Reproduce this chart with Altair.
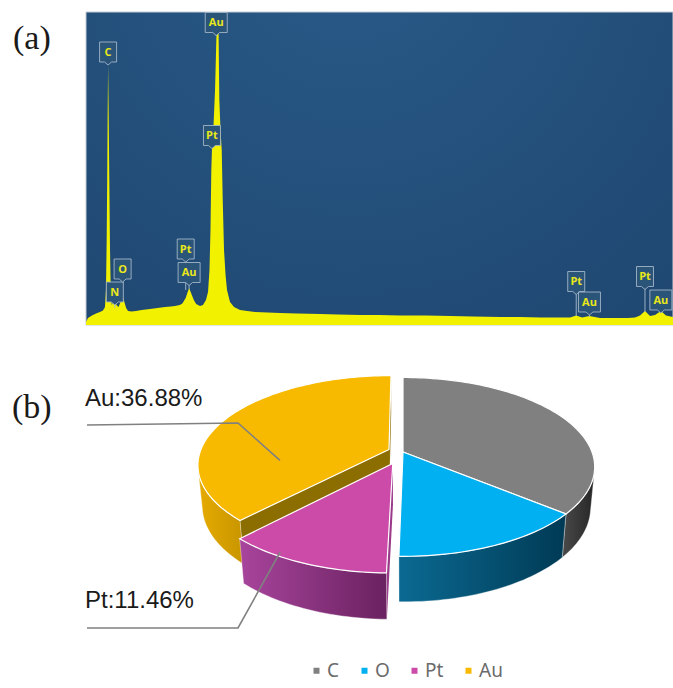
import math
import numpy as np
import pandas as pd
import altair as alt

# ---------------- (a) EDS spectrum ----------------
energy_kev = [
    -0.100, -0.066, 0.002, 0.071, 0.139, 0.190, 0.224, 0.241, 0.253, 0.262,
    0.269, 0.277, 0.288, 0.298, 0.310, 0.323, 0.340, 0.365, 0.392, 0.420,
    0.455, 0.490, 0.525, 0.555, 0.585, 0.617, 0.680, 0.754, 0.850, 0.993,
    1.120, 1.249, 1.350, 1.419, 1.500, 1.545, 1.602, 1.630, 1.660, 1.700,
    1.740, 1.780, 1.846, 1.897, 1.948, 1.983, 2.008, 2.025, 2.039, 2.051,
    2.077, 2.103, 2.125, 2.142, 2.159, 2.176, 2.196, 2.217, 2.234, 2.256,
    2.282, 2.307, 2.358, 2.427, 2.529, 2.650, 2.785, 3.000, 3.212, 3.500,
    3.895, 4.200, 4.578, 4.900, 5.261, 5.700, 6.114, 6.500, 6.968, 7.300,
    7.651, 7.950, 8.163, 8.268, 8.367, 8.494, 8.674, 8.850, 9.016, 9.150,
    9.272, 9.357, 9.442, 9.528, 9.614, 9.713, 9.800, 9.920,
]
counts = [
    30, 70, 95, 115, 130, 145, 180, 360, 850, 1450,
    2050, 2600, 2050, 1450, 750, 320, 200, 230, 270, 200,
    180, 230, 290, 230, 170, 140, 135, 140, 150, 160,
    170, 180, 185, 190, 200, 215, 270, 320, 370, 310,
    250, 210, 190, 200, 250, 330, 550, 950, 1550, 1770,
    2000, 2350, 2850, 3400, 3400, 2250, 1950, 1750, 1250, 750,
    500, 350, 230, 180, 150, 140, 130, 125, 120, 115,
    110, 105, 100, 100, 95, 95, 90, 85, 80, 80,
    75, 75, 75, 95, 75, 90, 70, 70, 70, 70,
    75, 95, 140, 90, 100, 140, 95, 80,
]

# peak identification tags: element, line energy, tag height, end of its stem
peak_element = ["C", "N", "O", "Pt", "Au", "Pt", "Au", "Pt", "Au", "Pt", "Au"]
peak_kev = [0.277, 0.392, 0.525, 1.602, 1.660, 2.050, 2.123, 8.268, 8.494, 9.442, 9.713]
peak_tag = [2730, 330, 560, 760, 525, 1895, 3025, 435, 230, 485, 250]
peak_stem = [2610, 170, 270, 350, 360, 1770, 2890, 90, 80, 130, 120]

E_MIN, E_MAX = -0.10, 9.92
C_MAX = 3130

# ---------------- (b) composition (wt%) ----------------
elements = ["C", "O", "Pt", "Au"]
percent = [35.00, 13.90, 11.46, 36.88]

# ---------------- styling ----------------
top_colors = ["#808080", "#00b0f0", "#cc4aa8", "#f7ba00"]
wall_colors = {
    "C": ("#4a4a4a", "#262626"),
    "O": ("#0b6a92", "#003a55"),
    "Pt": ("#a8449c", "#6a2260"),
    "Au": ("#e6ab00", "#c89500"),
}
face_colors = {"C": "#5a5a5a", "O": "#0a5070", "Pt": "#9a3a88", "Au": "#8c6d00"}
EXPLODE = {"C": 0.0, "O": 0.0, "Pt": 0.14, "Au": 0.08}

spec_df = pd.DataFrame({"kev": energy_kev, "counts": counts})
tag_df = pd.DataFrame({"element": peak_element, "kev": peak_kev,
                       "tag": peak_tag, "stem": peak_stem})
frame_df = pd.DataFrame({"x0": [E_MIN], "x1": [E_MAX], "y0": [0], "y1": [C_MAX]})
one_row = pd.DataFrame({"k": [0]})

x_scale = alt.Scale(domain=[E_MIN, E_MAX], range=[86, 673], nice=False, zero=False)
y_scale = alt.Scale(domain=[0, C_MAX], range=[325, 12], nice=False, zero=False, clamp=True)


def X(field):
    return alt.X(field, type="quantitative", scale=x_scale, axis=None)


def Y(field):
    return alt.Y(field, type="quantitative", scale=y_scale, axis=None)


panel_fill = {
    "gradient": "radial",
    "x1": 0.45, "y1": 0.12, "r1": 0.0,
    "x2": 0.45, "y2": 0.12, "r2": 0.95,
    "stops": [
        {"offset": 0.0, "color": "#295a88"},
        {"offset": 1.0, "color": "#1d446d"},
    ],
}

background = alt.Chart(frame_df).mark_rect(
    fill=panel_fill, stroke="#c3cbd4", strokeWidth=1
).encode(x=X("x0"), x2="x1:Q", y=Y("y0"), y2="y1:Q")

spectrum = alt.Chart(spec_df).mark_area(
    color="#f2f200", opacity=1, interpolate="linear"
).encode(x=X("kev"), y=Y("counts"))

stems = alt.Chart(tag_df).mark_rule(
    color="#a9bbcc", strokeWidth=1, opacity=0.9
).encode(x=X("kev"), y=Y("tag"), y2="stem:Q")

# tag outline: box with a small pointer underneath (unit square -1..1)
TAG_NARROW = "M-0.607,-0.714 H0.607 V0.714 H0.25 L0,0.93 L-0.25,0.714 H-0.607 Z"
TAG_WIDE = "M-0.786,-0.714 H0.786 V0.714 H0.25 L0,0.93 L-0.25,0.714 H-0.786 Z"

tag_style = dict(size=784, filled=True, fill="#2b5479", stroke="#a9bbcc",
                 strokeWidth=1, opacity=1, strokeOpacity=0.85)

tags_narrow = alt.Chart(tag_df).transform_filter(
    "datum.element != 'Au'"
).mark_point(shape=TAG_NARROW, **tag_style).encode(x=X("kev"), y=Y("tag"))

tags_wide = alt.Chart(tag_df).transform_filter(
    "datum.element == 'Au'"
).mark_point(shape=TAG_WIDE, **tag_style).encode(x=X("kev"), y=Y("tag"))

tag_text = alt.Chart(tag_df).mark_text(
    color="#e8e81a", font="Open Sans", fontSize=11, fontWeight="bold",
    align="center", baseline="middle", dy=0.5
).encode(x=X("kev"), y=Y("tag"), text="element:N")

# ---------------- 3-D pie geometry ----------------
SIN_E = 0.46
COS_E = math.sqrt(1 - SIN_E ** 2)
DEPTH = 5.33
K = 189.0
CX, CY = 403.0, 452.0
H = 0.245
PHI_SIL = math.degrees(math.acos(-1.0 / (DEPTH * COS_E)))
CAM = (0.0, -DEPTH * COS_E)


def project(x, y, z=0.0):
    v = y * SIN_E + z * COS_E
    w = y * COS_E - z * SIN_E
    s = DEPTH / (DEPTH + w)
    return [round(CX + K * x * s, 2), round(CY - K * v * s, 2)]


def rim_pt(o, phi_deg, r=1.0, z=0.0):
    p = math.radians(phi_deg)
    return project(o[0] + r * math.sin(p), o[1] + r * math.cos(p), z)


def arc(o, a0, a1, z=0.0):
    n = max(2, int(abs(a1 - a0) / 1.5) + 2)
    return [rim_pt(o, a, 1.0, z) for a in np.linspace(a0, a1, n)]


def polygon(pts, **props):
    ring = pts + [pts[0]]
    return {"type": "Feature", "properties": props,
            "geometry": {"type": "Polygon", "coordinates": [ring]}}


total = sum(percent)
slices = []
acc = 0.0
for name, p in zip(elements, percent):
    a0 = acc / total * 360.0
    acc += p
    a1 = acc / total * 360.0
    mid = math.radians((a0 + a1) / 2)
    e = EXPLODE[name]
    slices.append((name, a0, a1, (e * math.sin(mid), e * math.cos(mid))))

face_feats, top_feats = [], []
wall_feats = {}
for name, a0, a1, o in slices:
    # cut faces that turn towards the viewer
    for phi, sign in ((a0, -1.0), (a1, 1.0)):
        pr = math.radians(phi)
        n = (sign * math.cos(pr), -sign * math.sin(pr))
        px, py = o[0] + 0.5 * math.sin(pr), o[1] + 0.5 * math.cos(pr)
        if n[0] * (CAM[0] - px) + n[1] * (CAM[1] - py) > 0:
            pts = [project(o[0], o[1], 0.0), rim_pt(o, phi), rim_pt(o, phi, z=-H),
                   project(o[0], o[1], -H)]
            face_feats.append(polygon(pts, element=name, shade=face_colors[name]))
    # outer wall, front part only
    a, b = max(a0, PHI_SIL), min(a1, 360.0 - PHI_SIL)
    if b > a:
        pts = arc(o, a, b) + arc(o, b, a, z=-H)
        wall_feats[name] = polygon(pts, element=name)
    # top face
    top_feats.append(polygon([project(o[0], o[1])] + arc(o, a0, a1), element=name))

offsets = {s[0]: s[3] for s in slices}
au_anchor = rim_pt(offsets["Au"], 257.6, r=0.58)
pt_anchor = rim_pt(offsets["Pt"], 210.5, r=0.97)
leader_feats = [
    {"type": "Feature", "properties": {"element": "Au"},
     "geometry": {"type": "LineString", "coordinates": [[87, 425], [238, 423], au_anchor]}},
    {"type": "Feature", "properties": {"element": "Pt"},
     "geometry": {"type": "LineString", "coordinates": [[87, 628], [238, 628], pt_anchor]}},
]

flat = dict(type="identity", scale=1, translate=[0, 0])

faces = alt.Chart(alt.Data(values=face_feats)).mark_geoshape(
    stroke="transparent", strokeWidth=0
).encode(fill=alt.Fill("properties.shade:N", scale=None, legend=None)).project(**flat)

walls = []
for name in ["C", "Au", "O", "Pt"]:
    if name not in wall_feats:
        continue
    c0, c1 = wall_colors[name]
    grad = {"gradient": "linear", "x1": 0, "y1": 0, "x2": 1, "y2": 0,
            "stops": [{"offset": 0, "color": c0}, {"offset": 1, "color": c1}]}
    walls.append(
        alt.Chart(alt.Data(values=[wall_feats[name]])).mark_geoshape(
            fill=grad, stroke="#ffffff", strokeWidth=0.6, strokeOpacity=0.6
        ).project(**flat)
    )

tops = alt.Chart(alt.Data(values=top_feats)).mark_geoshape(
    stroke="#ffffff", strokeWidth=1.2, opacity=1
).encode(
    color=alt.Color(
        "properties.element:N",
        scale=alt.Scale(domain=elements, range=top_colors),
        legend=alt.Legend(
            title=None, orient="none", legendX=307, legendY=661,
            direction="horizontal", columns=4, symbolType="square",
            symbolSize=36, symbolStrokeWidth=0, labelFont="Noto Sans",
            labelFontSize=19, labelColor="#6b6b6b", labelOffset=1,
            columnPadding=15, padding=0,
        ),
    )
).project(**flat)

leaders = alt.Chart(alt.Data(values=leader_feats)).mark_geoshape(
    filled=False, stroke="#808080", strokeWidth=1.6
).project(**flat)


def label(text, x, y, size, font, color="#1a1a1a"):
    return alt.Chart(one_row).mark_text(
        align="left", baseline="alphabetic", font=font, fontSize=size, color=color
    ).encode(x=alt.value(x), y=alt.value(y), text=alt.value(text))


pct = dict(zip(elements, percent))
texts = [
    label("(a)", 13, 49, 34, "Liberation Serif"),
    label("(b)", 12, 418, 34, "Liberation Serif"),
    label(f"Au:{pct['Au']:.2f}%", 85, 406, 24, "Liberation Sans"),
    label(f"Pt:{pct['Pt']:.2f}%", 85, 608, 24, "Liberation Sans"),
]

chart = alt.layer(
    background, spectrum, stems, tags_narrow, tags_wide, tag_text,
    faces, *walls, tops, leaders, *texts,
).properties(
    width=673, height=688, padding=0, background="white",
    autosize=alt.AutoSizeParams(type="none"),
).configure_view(stroke=None)

chart.save("out.html", embed_options={"renderer": "svg", "actions": False})
